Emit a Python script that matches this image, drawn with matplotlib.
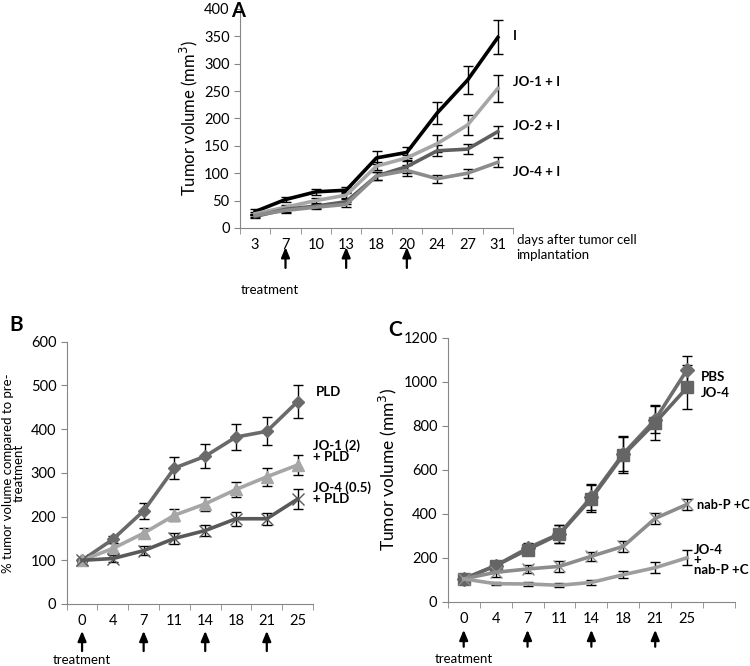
import numpy as np
import matplotlib
matplotlib.use("Agg")
import matplotlib.pyplot as plt
import matplotlib.transforms as mtransforms

plt.rcParams['font.family'] = ['Lato', 'DejaVu Sans']

# ---- panel A data
days_a = ['3', '7', '10', '13', '18', '20', '24', '27', '31']
a_I = [30, 52, 66, 69, 128, 138, 210, 270, 348]
a_I_err = [4, 4, 6, 5, 12, 10, 20, 25, 31]
a_jo1 = [26, 38, 50, 60, 113, 128, 154, 188, 255]
a_jo1_err = [3, 4, 5, 5, 8, 6, 15, 18, 25]
a_jo2 = [21, 34, 40, 48, 95, 112, 141, 144, 176]
a_jo2_err = [3, 4, 4, 5, 8, 12, 10, 9, 11]
a_jo4 = [23, 32, 38, 43, 95, 105, 90, 100, 120]
a_jo4_err = [3, 4, 4, 5, 8, 10, 7, 8, 9]
a_arrows = [1, 3, 5]

# ---- panel B data
days_b = ['0', '4', '7', '11', '14', '18', '21', '25']
b_pld = [100, 148, 213, 311, 338, 382, 395, 463]
b_pld_err = [3, 8, 18, 26, 27, 30, 32, 37]
b_jo1 = [100, 127, 162, 203, 229, 262, 291, 318]
b_jo1_err = [3, 12, 12, 14, 16, 18, 20, 22]
b_jo4 = [100, 104, 122, 150, 168, 195, 195, 240]
b_jo4_err = [3, 8, 10, 12, 12, 16, 14, 22]
b_arrows = [0, 2, 4, 6]

# ---- panel C data
days_c = ['0', '4', '7', '11', '14', '18', '21', '25', '']
c_pbs = [105, 165, 245, 310, 477, 674, 829, 1056]
c_pbs_err = [10, 15, 25, 40, 60, 80, 60, 62]
c_jo4 = [105, 165, 238, 308, 470, 668, 815, 975]
c_jo4_err = [10, 15, 25, 40, 60, 80, 80, 100]
c_nab = [105, 135, 150, 162, 208, 253, 380, 444]
c_nab_err = [10, 20, 20, 25, 20, 25, 25, 25]
c_combo = [105, 83, 82, 76, 89, 124, 156, 201]
c_combo_err = [10, 8, 8, 10, 10, 15, 25, 35]
c_arrows = [0, 2, 4, 6]

spine_col = '#868686'


def excel_axes(ax, labels, ylim, ystep):
    n = len(labels)
    ax.set_xlim(-0.5, n - 0.5)
    ax.set_ylim(*ylim)
    ax.set_yticks(np.arange(ylim[0], ylim[1] + 1, ystep))
    ax.set_xticks(np.arange(n))
    ax.set_xticklabels(labels)
    ax.set_xticks(np.arange(n + 1) - 0.5, minor=True)
    ax.tick_params(axis='x', which='major', length=0, pad=7, labelsize=10.5)
    ax.tick_params(axis='x', which='minor', length=4, direction='out', color=spine_col)
    ax.tick_params(axis='y', length=4, direction='out', color=spine_col, labelsize=10.5)
    for s in ['top', 'right']:
        ax.spines[s].set_visible(False)
    for s in ['left', 'bottom']:
        ax.spines[s].set_color(spine_col)


def series(ax, y, err, color, marker=None, ms=7, lw=2.6):
    x = np.arange(len(y))
    ax.errorbar(x, y, yerr=err, color=color, lw=lw, marker=marker, ms=ms,
                ecolor='black', elinewidth=1.0, capsize=3.5, capthick=1.0,
                mec=color, mfc=color, zorder=3)


def arrows(ax, idx, tip, tail):
    trans = mtransforms.blended_transform_factory(ax.transData, ax.transAxes)
    for i in idx:
        ax.annotate('', xy=(i, tip), xytext=(i, tail), xycoords=trans, textcoords=trans,
                    arrowprops=dict(arrowstyle='-|>,head_width=0.25,head_length=0.6',
                                    color='black', lw=1.6), annotation_clip=False)


fig = plt.figure(figsize=(7.5, 6.66), dpi=100)

# ---------------- A
axA = fig.add_axes([0.32, 0.6577, 0.364, 0.3288])
excel_axes(axA, days_a, (0, 400), 50)
series(axA, a_I, a_I_err, '#000000')
series(axA, a_jo1, a_jo1_err, '#a6a6a6')
series(axA, a_jo2, a_jo2_err, '#5f5f5f')
series(axA, a_jo4, a_jo4_err, '#8c8c8c')
axA.set_ylabel('Tumor volume (mm$^3$)', fontsize=12, labelpad=3)
tA = mtransforms.blended_transform_factory(axA.transAxes, axA.transData)
for lab, yv in [('I', 350), ('JO-1 + I', 267), ('JO-2 + I', 186), ('JO-4 + I', 102)]:
    axA.text(1.0, yv, lab, transform=tA, fontsize=9.5, fontweight='bold', va='center', ha='left')
axA.text(1.013, -0.09, 'days after tumor cell\nimplantation', transform=axA.transAxes,
         fontsize=9.5, va='center', ha='left', linespacing=1.3)
arrows(axA, a_arrows, -0.075, -0.195)
axA.text(0.11, -0.283, 'treatment', transform=axA.transAxes, fontsize=9.5, ha='center', va='center')
fig.text(0.318, 0.984, 'A', fontsize=14.5, fontweight='bold', ha='center', va='center')

# ---------------- B
axB = fig.add_axes([0.0889, 0.0931, 0.3284, 0.3938])
excel_axes(axB, days_b, (0, 600), 100)
series(axB, b_pld, b_pld_err, '#6a6a6a', marker='D', ms=6.5)
series(axB, b_jo1, b_jo1_err, '#a6a6a6', marker='^', ms=8)
series(axB, b_jo4, b_jo4_err, '#595959', marker='x', ms=9)
axB.set_ylabel('% tumor volume compared to pre-\ntreatment', fontsize=9.5, labelpad=4,
               linespacing=0.95)
tB = mtransforms.blended_transform_factory(axB.transAxes, axB.transData)
axB.text(1.01, 485, 'PLD', transform=tB, fontsize=9.5, fontweight='bold', va='center', ha='left')
axB.text(1.0, 350, 'JO-1 (2)\n+ PLD', transform=tB, fontsize=9.5, fontweight='bold',
         va='center', ha='left', linespacing=0.85)
axB.text(1.0, 254, 'JO-4 (0.5)\n+ PLD', transform=tB, fontsize=9.5, fontweight='bold',
         va='center', ha='left', linespacing=0.85)
arrows(axB, b_arrows, -0.092, -0.19)
axB.text(0, -0.215, 'treatment', transform=mtransforms.blended_transform_factory(axB.transData, axB.transAxes),
         fontsize=9.5, ha='center', va='center')
fig.text(0.021, 0.512, 'B', fontsize=15, fontweight='bold', ha='center', va='center')

# ---------------- C
axC = fig.add_axes([0.597, 0.0961, 0.383, 0.3964])
excel_axes(axC, days_c, (0, 1200), 200)
series(axC, c_pbs, c_pbs_err, '#6e6e6e', marker='D', ms=7)
series(axC, c_jo4, c_jo4_err, '#656565', marker='s', ms=9)
series(axC, c_nab, c_nab_err, '#8c8c8c', marker='x', ms=9)
series(axC, c_combo, c_combo_err, '#9e9e9e')
axC.set_ylabel('Tumor volume (mm$^3$)', fontsize=12.5, labelpad=3)
axC.text(7.42, 1023, 'PBS', fontsize=9.5, fontweight='bold', va='center', ha='left')
axC.text(7.42, 950, 'JO-4', fontsize=9.5, fontweight='bold', va='center', ha='left')
axC.text(7.3, 441, 'nab-P +C', fontsize=9.2, fontweight='bold', va='center', ha='left')
axC.text(7.2, 191, 'JO-4\n+\nnab-P +C', fontsize=9.5, fontweight='bold', va='center', ha='left',
         linespacing=0.8)
arrows(axC, c_arrows, -0.095, -0.18)
axC.text(0, -0.216, 'treatment', transform=mtransforms.blended_transform_factory(axC.transData, axC.transAxes),
         fontsize=9.5, ha='center', va='center')
fig.text(0.527, 0.505, 'C', fontsize=15, fontweight='bold', ha='center', va='center')

fig.savefig('out.png', dpi=100)
